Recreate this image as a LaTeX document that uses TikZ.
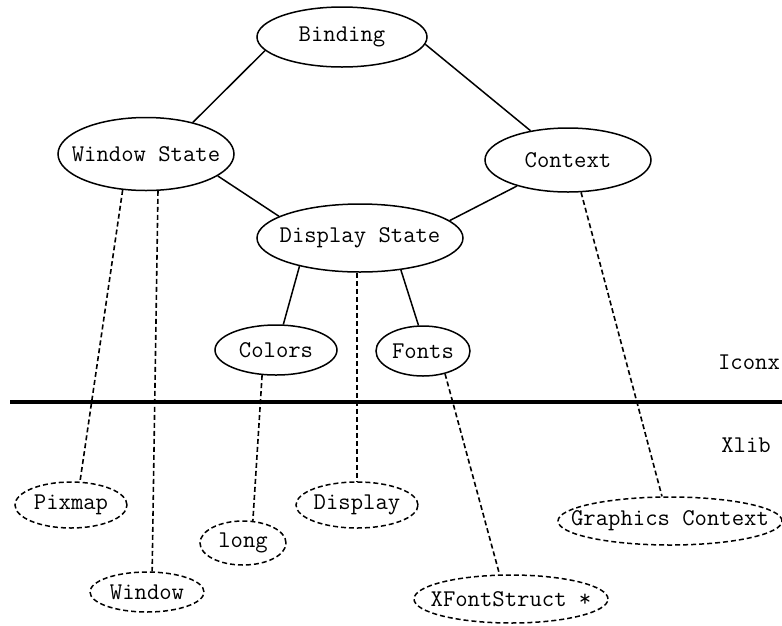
\documentclass[tikz,border=0pt]{standalone}
\usetikzlibrary{shapes.geometric}
\newcommand{\ovtext}[1]{\makebox[0pt]{#1}}
\tikzset{
  ov/.style={ellipse, draw, line width=1.5pt, inner sep=0pt, font=\ttfamily\fontsize{24}{28}\selectfont},
  dov/.style={ov, dash pattern=on 5pt off 3pt},
  conn/.style={line width=1.5pt},
  dconn/.style={line width=1.6pt, dash pattern=on 5pt off 3pt},
  lbl/.style={font=\ttfamily\fontsize{24}{28}\selectfont, inner sep=0pt},
}
\begin{document}
\begin{tikzpicture}[x=1pt,y=-1pt]
\useasboundingbox (0,0) rectangle (782,625);
% upper nodes
\node[ov, minimum width=170, minimum height=60] (bind) at (342,37) {\ovtext{Binding}};
\node[ov, minimum width=176, minimum height=73] (ws) at (146,154) {\ovtext{Window State}};
\node[ov, minimum width=166, minimum height=64] (ctx) at (568,160) {\ovtext{Context}};
\node[ov, minimum width=206, minimum height=68] (ds) at (360,238) {\ovtext{Display State}};
\node[ov, minimum width=122, minimum height=50] (col) at (276,350) {\ovtext{Colors}};
\node[ov, minimum width=94, minimum height=50] (fon) at (423,351) {\ovtext{Fonts}};
% layer labels and divider
\node[lbl] (iconx) at (749,362) {Iconx};
\node[lbl] (xlib) at (746,445) {Xlib};
\coordinate (divL) at (10,402);
\coordinate (divR) at (782,402);
\draw[line width=4pt] (divL) -- (divR);
% lower nodes
\node[dov, minimum width=112, minimum height=46] (pix) at (71,505) {\ovtext{Pixmap}};
\node[dov, minimum width=114, minimum height=40] (win) at (147,592) {\ovtext{Window}};
\node[dov, minimum width=86, minimum height=44] (lng) at (243,543) {\ovtext{long}};
\node[dov, minimum width=122, minimum height=46] (disp) at (357,505) {\ovtext{Display}};
\node[dov, minimum width=194, minimum height=48] (xfs) at (511,599) {\ovtext{XFontStruct *}};
\node[dov, minimum width=224, minimum height=48] (gc) at (670,521) {\ovtext{Graphics Context}};
% solid connectors
\draw[conn] (bind.190) -- (ws.34);
\draw[conn] (bind.355) -- (ctx.142);
\draw[conn] (ws.343) -- (ds.165);
\draw[conn] (ctx.207) -- (ds.11);
\draw[conn] (ds.205) -- (col.74);
\draw[conn] (ds.322) -- (fon.100);
% dashed connectors
\draw[dconn] (ws.237) -- (pix.69);
\draw[dconn] (ws.288) -- (win.76);
\draw[dconn] (col.241) -- (lng.66);
\draw[dconn] (disp.north |- ds.south) -- (disp.north);
\draw[dconn] (fon.314) -- (xfs.115);
\draw[dconn] (ctx.292) -- (gc.108);
\end{tikzpicture}
\end{document}
